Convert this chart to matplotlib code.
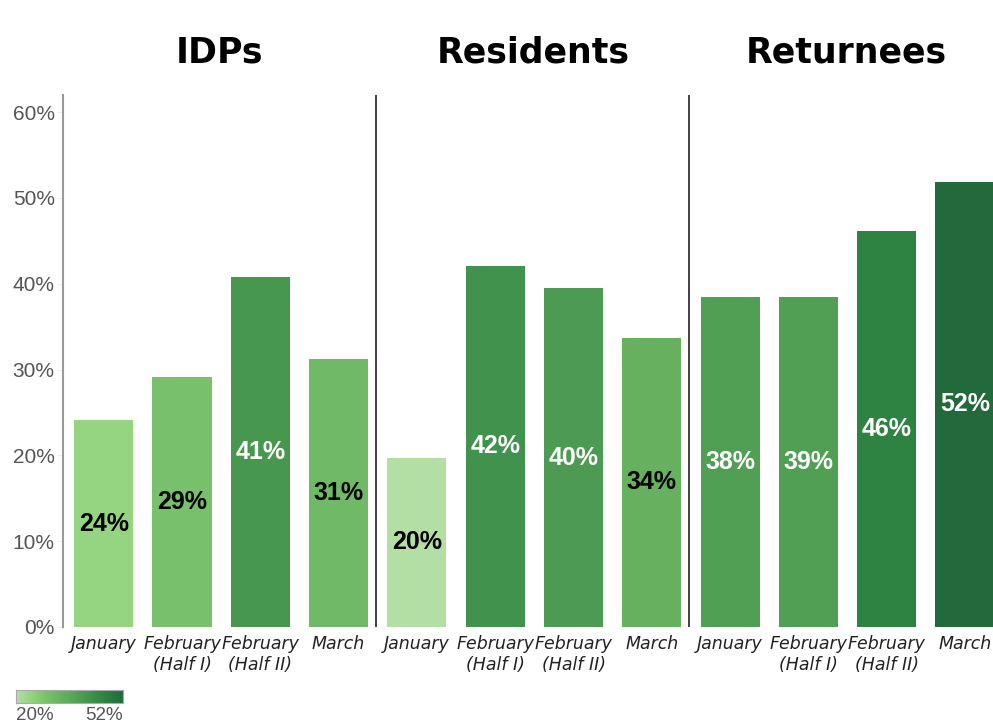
import numpy as np
import matplotlib
matplotlib.use('Agg')
import matplotlib.pyplot as plt
from matplotlib.colors import LinearSegmentedColormap, Normalize

groups = ['IDPs', 'Residents', 'Returnees']
months = ['January', 'February\n(Half I)', 'February\n(Half II)', 'March']
idps = [24.1, 29.1, 40.8, 31.2]
residents = [19.7, 42.1, 39.5, 33.7]
returnees = [38.5, 38.5, 46.2, 51.9]
labels = [['24%', '29%', '41%', '31%'],
          ['20%', '42%', '40%', '34%'],
          ['38%', '39%', '46%', '52%']]
vmin, vmax = 19.7, 51.9

cmap = LinearSegmentedColormap.from_list('grn', [
    (0.0, '#b3dfa5'), (0.14, '#93d57f'), (0.29, '#78c06b'),
    (0.5, '#5ea95b'), (0.66, '#46964f'), (0.82, '#2e8442'), (1.0, '#226a3c')])
norm = Normalize(vmin, vmax)

W, H = 993, 722
fig = plt.figure(figsize=(W / 100, H / 100), dpi=100)
# one axis for all 12 bars, slot = 78.3 px
slot = 78.3
ax = fig.add_axes([63 / W, (H - 627) / H, 12 * slot / W, (627 - 95) / H])
ax.set_xlim(0, 12)
ax.set_ylim(0, 62)

all_vals = [idps, residents, returnees]
for g, vals in enumerate(all_vals):
    x = np.arange(4) + 4 * g + 0.52
    cols = [cmap(norm(v)) for v in vals]
    ax.bar(x, vals, width=0.755, color=cols)
    for xi, v, lab in zip(x, vals, labels[g]):
        tc = 'white' if v > 36 else 'black'
        ax.text(xi, v / 2, lab, ha='center', va='center', fontsize=18,
                fontweight='bold', color=tc, family='Liberation Sans')
    for xi, m in zip(x, months):
        ax.text(xi, -0.9, m, ha='center', va='top', fontsize=12.5,
                style='italic', color='#222222', linespacing=1.2)
    ax.text(4 * g + 2.0, 67.0, groups[g], ha='center', va='center',
            fontsize=25, fontweight='bold', color='black')

for xs in [4, 8]:
    ax.axvline(xs, color='#333333', lw=1.3)

for s in ['top', 'right', 'bottom']:
    ax.spines[s].set_visible(False)
ax.spines['left'].set_color('#999999')
ax.spines['left'].set_linewidth(1.5)
ax.set_xticks([])
ax.set_yticks(range(0, 61, 10))
ax.set_yticklabels([f'{t}%' for t in range(0, 61, 10)], fontsize=15,
                   color='#555555', family='Liberation Sans')
ax.tick_params(axis='y', length=4, color='#eeeeee', pad=2)

# colour legend
cax = fig.add_axes([16 / W, (H - 703) / H, 107 / W, 13 / H])
grad = np.linspace(0, 1, 256).reshape(1, -1)
cax.imshow(grad, aspect='auto', cmap=cmap)
cax.set_xticks([])
cax.set_yticks([])
for s in cax.spines.values():
    s.set_color('#aaaaaa')
    s.set_linewidth(0.8)
fig.text(16 / W, (H - 715) / H, '20%', fontsize=13.5, color='#555555',
         va='center', ha='left', family='Liberation Sans')
fig.text(123 / W, (H - 715) / H, '52%', fontsize=13.5, color='#555555',
         va='center', ha='right', family='Liberation Sans')

fig.savefig('out.png', dpi=100)
